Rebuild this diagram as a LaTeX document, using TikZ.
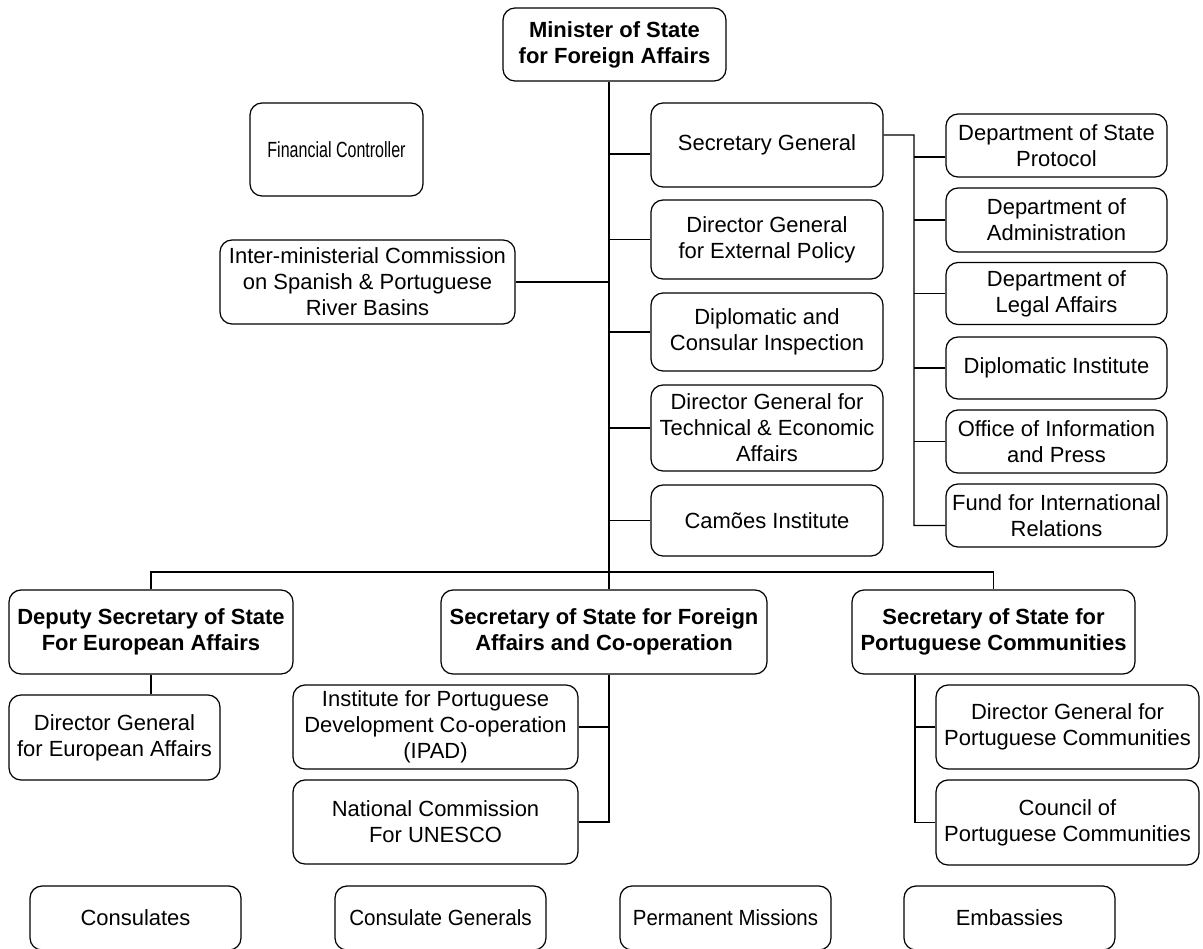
\documentclass[tikz,border=0pt]{standalone}
\usepackage{fontspec}
\setmainfont{Liberation Sans}

\begin{document}
\begin{tikzpicture}[x=0.02cm, y=-0.02cm,
    orgbox/.style={draw, rounded corners=0.24cm, align=center, inner sep=1pt,
      line width=0.7pt, font=\fontsize{12.5}{14.8}\selectfont},
    headbox/.style={orgbox, font=\fontsize{12.5}{14.8}\selectfont\bfseries},
    sz/.style 2 args={minimum width=#1*0.02cm, minimum height=#2*0.02cm},
    link/.style={line width=0.7pt}]
    \useasboundingbox (0,0) rectangle (1203,948);

    % Minister
    \node[headbox, sz={223}{73}] (minister) at (614.5,44.5) {Minister of State\\for Foreign Affairs};

    % Side offices
    \node[orgbox, sz={173}{93}] (fincon) at (336.5,149.5) {\scalebox{0.73}[1]{Financial Controller}};
    \node[orgbox, sz={295}{84}] (interm) at (367.5,282) {Inter-ministerial Commission\\on Spanish \& Portuguese\\River Basins};

    % Middle column
    \node[orgbox, sz={232}{84}] (secgen) at (767,145) {Secretary General};
    \node[orgbox, sz={232}{79}] (dgext) at (767,239.5) {Director General\\for External Policy};
    \node[orgbox, sz={232}{78}] (diplo) at (767,332) {Diplomatic and\\Consular Inspection};
    \node[orgbox, sz={232}{86}] (dgtech) at (767,428) {Director General for\\Technical \& Economic\\Affairs};
    \node[orgbox, sz={232}{71}] (camoes) at (767,520.5) {Camões Institute};

    % Departments
    \node[orgbox, sz={221}{63}] (protocol) at (1056.5,145.5) {Department of State\\Protocol};
    \node[orgbox, sz={221}{64}] (admin) at (1056.5,220) {Department of\\Administration};
    \node[orgbox, sz={221}{62}] (legal) at (1056.5,293.5) {Department of\\Legal Affairs};
    \node[orgbox, sz={221}{62}] (dipinst) at (1056.5,368) {Diplomatic Institute};
    \node[orgbox, sz={221}{63}] (infopress) at (1056.5,441.5) {Office of Information\\and Press};
    \node[orgbox, sz={221}{63}] (fund) at (1056.5,515.5) {Fund for International\\Relations};

    % Secretaries of state
    \node[headbox, sz={284}{84}] (deputy) at (151,632) {Deputy Secretary of State\\For European Affairs};
    \node[headbox, sz={326}{84}] (sosfa) at (604,632) {Secretary of State for Foreign\\Affairs and Co-operation};
    \node[headbox, sz={283}{84}] (sospc) at (993.5,632) {Secretary of State for\\Portuguese Communities};

    % Under the secretaries
    \node[orgbox, sz={211}{85}] (dgeuro) at (114.5,737.5) {Director General\\for European Affairs};
    \node[orgbox, sz={285}{84}] (ipad) at (435.5,727) {Institute for Portuguese\\Development Co-operation\\(IPAD)};
    \node[orgbox, sz={285}{84}] (unesco) at (435.5,822) {National Commission\\For UNESCO};
    \node[orgbox, sz={263}{84}] (dgpc) at (1067.5,727) {Director General for\\Portuguese Communities};
    \node[orgbox, sz={263}{85}] (council) at (1067.5,822.5) {Council of\\Portuguese Communities};

    % Missions abroad
    \node[orgbox, sz={211}{64}] (consulates) at (135.5,918) {Consulates};
    \node[orgbox, sz={211}{64}] (consgen) at (440.5,918) {\scalebox{0.94}[1]{Consulate Generals}};
    \node[orgbox, sz={211}{64}] (permmiss) at (725.5,918) {\scalebox{0.93}[1]{Permanent Missions}};
    \node[orgbox, sz={211}{64}] (embassies) at (1009.5,918) {Embassies};

    % Spine and bus
    \coordinate (bus) at (609,572);
    \coordinate (deptbus) at (914,135);
    \coordinate (pcbus) at (915,674);
    \draw[link] (minister.south -| bus) -- (sosfa.north -| bus);
    \draw[link] (deputy.north) |- (bus) -| (sospc.north);
    \draw[link] ([yshift=-0.18cm]secgen.west) -- ([yshift=-0.18cm]secgen.west -| bus);
    \draw[link] (dgext.west) -- (dgext.west -| bus);
    \draw[link] (diplo.west) -- (diplo.west -| bus);
    \draw[link] (dgtech.west) -- (dgtech.west -| bus);
    \draw[link] (camoes.west) -- (camoes.west -| bus);
    \draw[link] (interm.east) -- (interm.east -| bus);

    % Departments
    \draw[link] ([yshift=0.2cm]secgen.east) -- (deptbus) |- ([yshift=-0.2cm]fund.west);
    \draw[link] ([yshift=-0.23cm]protocol.west) -- ([yshift=-0.23cm]protocol.west -| deptbus);
    \draw[link] (admin.west) -- (admin.west -| deptbus);
    \draw[link] (legal.west) -- (legal.west -| deptbus);
    \draw[link] (dipinst.west) -- (dipinst.west -| deptbus);
    \draw[link] (infopress.west) -- (infopress.west -| deptbus);

    % Below the secretaries
    \draw[link] (deputy.south) -- (deputy.south |- dgeuro.north);
    \draw[link] (sosfa.south -| bus) |- (unesco.east);
    \draw[link] (ipad.east) -- (ipad.east -| bus);
    \draw[link] (sospc.south -| pcbus) |- (council.west);
    \draw[link] (dgpc.west) -- (dgpc.west -| pcbus);
\end{tikzpicture}
\end{document}
